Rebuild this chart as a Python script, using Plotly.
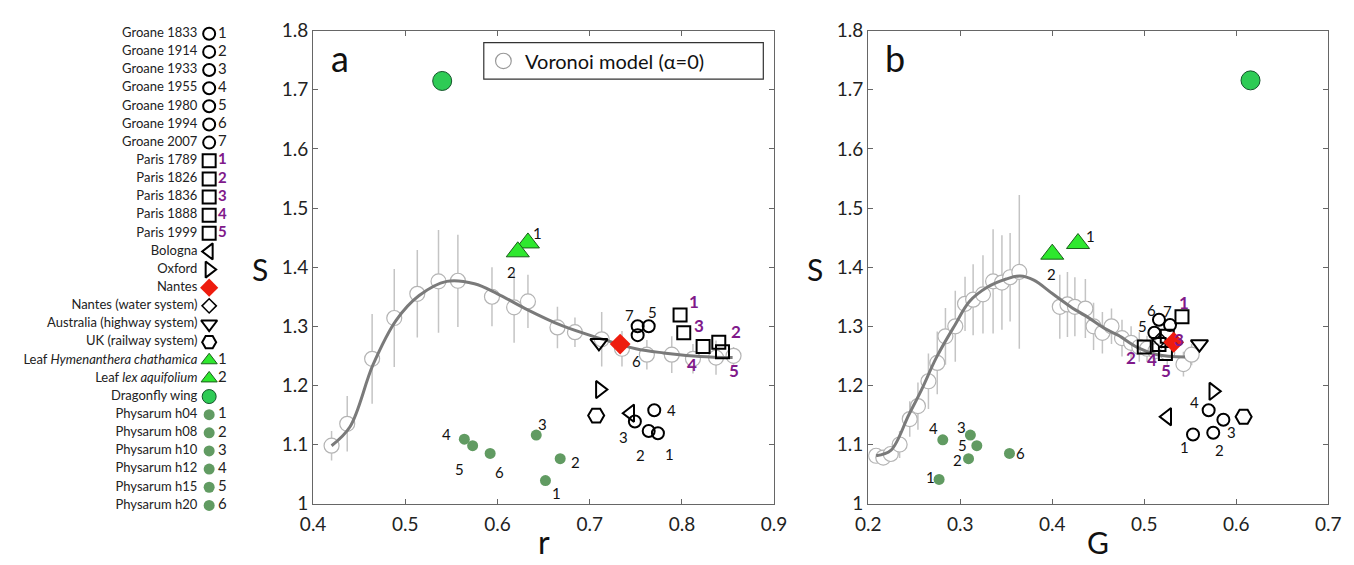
import plotly.graph_objects as go

FONT = "Lato"
W, H = 1354, 565

# ---------------- legend rows (left column) ----------------
legend_names = [
    "Groane 1833", "Groane 1914", "Groane 1933", "Groane 1955", "Groane 1980",
    "Groane 1994", "Groane 2007",
    "Paris 1789", "Paris 1826", "Paris 1836", "Paris 1888", "Paris 1999",
    "Bologna", "Oxford", "Nantes", "Nantes (water system)",
    "Australia (highway system)", "UK (railway system)",
    "Leaf <i>Hymenanthera chathamica</i>", "Leaf <i>lex aquifolium</i>",
    "Dragonfly wing",
    "Physarum h04", "Physarum h08", "Physarum h10", "Physarum h12",
    "Physarum h15", "Physarum h20",
]
legend_kinds = (["groane"] * 7 + ["paris"] * 5
                + ["bologna", "oxford", "nantes", "nantes_water", "australia", "uk",
                   "leaf", "leaf", "dragonfly"]
                + ["physarum"] * 6)
legend_tags = ["1", "2", "3", "4", "5", "6", "7",
               "1", "2", "3", "4", "5",
               "", "", "", "", "", "",
               "1", "2", "",
               "1", "2", "3", "4", "5", "6"]

# ---------------- panel a : S vs r ----------------
vor_a_r = [0.420, 0.437, 0.464, 0.488, 0.513, 0.536, 0.557, 0.594, 0.618, 0.633,
           0.665, 0.684, 0.713, 0.735, 0.762, 0.789, 0.812, 0.837, 0.856]
vor_a_S = [1.098, 1.135, 1.245, 1.314, 1.355, 1.376, 1.377, 1.350, 1.332, 1.342,
           1.298, 1.290, 1.278, 1.262, 1.252, 1.252, 1.245, 1.247, 1.250]
vor_a_err = [0.025, 0.047, 0.076, 0.083, 0.074, 0.087, 0.078, 0.050, 0.060, 0.045,
             0.035, 0.025, 0.046, 0.030, 0.025, 0.031, 0.025, 0.029, 0.015]
curve_a_r = [0.420, 0.440, 0.465, 0.490, 0.515, 0.545, 0.575, 0.600, 0.630, 0.670,
             0.710, 0.750, 0.780, 0.820, 0.855]
curve_a_S = [1.098, 1.130, 1.235, 1.310, 1.352, 1.376, 1.372, 1.355, 1.330, 1.301,
             1.280, 1.262, 1.255, 1.249, 1.247]

groane_a_r = [0.774, 0.764, 0.749, 0.770, 0.764, 0.752, 0.752]
groane_a_S = [1.119, 1.123, 1.139, 1.158, 1.300, 1.285, 1.300]
paris_a_r = [0.798, 0.840, 0.802, 0.823, 0.844]
paris_a_S = [1.319, 1.273, 1.289, 1.266, 1.257]
physarum_a_r = [0.652, 0.668, 0.642, 0.564, 0.573, 0.592]
physarum_a_S = [1.039, 1.076, 1.116, 1.109, 1.098, 1.085]
leaf_a_r = [0.633, 0.622]
leaf_a_S = [1.441, 1.426]
single_a = {  # kind: (r, S)
    "bologna": (0.744, 1.153),
    "oxford": (0.711, 1.193),
    "nantes_water": (0.733, 1.270),
    "nantes": (0.733, 1.270),
    "australia": (0.710, 1.272),
    "uk": (0.707, 1.149),
    "dragonfly": (0.540, 1.715),
}

# ---------------- panel b : S vs G ----------------
vor_b_G = [0.2085, 0.2163, 0.2245, 0.2341, 0.2451, 0.254, 0.2654, 0.275, 0.2839,
           0.2946, 0.3052, 0.314, 0.3247, 0.3357, 0.3453, 0.3542, 0.3642, 0.4082,
           0.4165, 0.4246, 0.436, 0.4449, 0.4545, 0.4644, 0.4758, 0.4857, 0.4946,
           0.503, 0.512, 0.525, 0.5426, 0.5515]
vor_b_S = [1.081, 1.078, 1.084, 1.100, 1.143, 1.165, 1.207, 1.238, 1.283, 1.300,
           1.338, 1.345, 1.354, 1.376, 1.374, 1.383, 1.392, 1.333, 1.337, 1.333,
           1.330, 1.300, 1.289, 1.300, 1.280, 1.272, 1.265, 1.262, 1.258, 1.255,
           1.236, 1.252]
vor_b_err = [0.010, 0.010, 0.012, 0.023, 0.030, 0.040, 0.047, 0.053, 0.048, 0.060,
             0.046, 0.060, 0.066, 0.088, 0.080, 0.075, 0.130, 0.054, 0.055, 0.050,
             0.050, 0.040, 0.035, 0.030, 0.031, 0.028, 0.025, 0.022, 0.020, 0.020,
             0.021, 0.018]
curve_b_G = [0.2085, 0.2245, 0.244, 0.258, 0.274, 0.2938, 0.310, 0.3293, 0.350,
             0.365, 0.380, 0.4004, 0.4218, 0.436, 0.4573, 0.4715, 0.4929, 0.5142,
             0.5443]
curve_b_S = [1.081, 1.090, 1.150, 1.193, 1.247, 1.301, 1.342, 1.366, 1.380,
             1.385, 1.378, 1.355, 1.331, 1.318, 1.296, 1.285, 1.264, 1.252,
             1.248]

groane_b_G = [0.553, 0.575, 0.586, 0.570, 0.511, 0.516, 0.528]
groane_b_S = [1.117, 1.120, 1.142, 1.158, 1.289, 1.311, 1.302]
paris_b_G = [0.541, 0.500, 0.525, 0.516, 0.523]
paris_b_S = [1.316, 1.265, 1.283, 1.269, 1.254]
physarum_b_G = [0.277, 0.309, 0.311, 0.281, 0.318, 0.3535]
physarum_b_S = [1.041, 1.076, 1.116, 1.108, 1.098, 1.085]
leaf_b_G = [0.428, 0.400]
leaf_b_S = [1.440, 1.422]
single_b = {
    "bologna": (0.525, 1.147),
    "oxford": (0.575, 1.190),
    "nantes_water": (0.517, 1.277),
    "nantes": (0.532, 1.273),
    "australia": (0.560, 1.270),
    "uk": (0.608, 1.147),
    "dragonfly": (0.6155, 1.716),
}

# ---------------- styles ----------------
PURPLE = "#80198a"
STYLE = {
    "groane": dict(symbol="circle-open", size=12, color="black", line=dict(width=2, color="black")),
    "paris": dict(symbol="square-open", size=13, color="black", line=dict(width=2, color="black")),
    "bologna": dict(symbol="triangle-left-open", size=15, color="black", line=dict(width=2, color="black")),
    "oxford": dict(symbol="triangle-right-open", size=15, color="black", line=dict(width=2, color="black")),
    "nantes": dict(symbol="diamond", size=16, color="#ee1c0e", line=dict(width=0)),
    "nantes_water": dict(symbol="diamond-open", size=11, color="black", line=dict(width=1.5, color="black")),
    "australia": dict(symbol="triangle-down-open", size=15, color="black", line=dict(width=2, color="black")),
    "uk": dict(symbol="hexagon2-open", size=16, color="black", line=dict(width=2, color="black")),
    "leaf": dict(symbol="triangle-up", size=20, color="#2ee82e", line=dict(width=1, color="#1a5e1a")),
    "dragonfly": dict(symbol="circle", size=19, color="#2ecb55", line=dict(width=1, color="#14532a")),
    "physarum": dict(symbol="circle", size=11, color="#619b62", line=dict(width=0)),
}
VOR_STYLE = dict(symbol="circle", size=15, color="white", line=dict(width=1.2, color="#b4b4b4"))

# label offsets in px (dx right, dy down)
off_groane_a = [(12, 21), (-8, 24), (-11, 16), (17, 0), (4, -14), (-1, 26), (-8, -11)]
off_paris_a = [(14, -14), (17, -11), (15, -7), (-11, 18), (12, 19)]
off_phys_a = [(11, 12), (15, 3), (6, -11), (-18, -5), (-13, 23), (9, 19)]
off_leaf_a = [(10, -10), (-6, 20)]
off_groane_b = [(-9, 13), (6, 17), (8, 12), (-14, -8), (-12, -7), (-7, -10), (-3, -14)]
off_paris_b = [(2, -14), (-13, 11), (12, 3), (-7, 15), (1, 17)]
off_phys_b = [(-9, -2), (-11, 1), (-9, -8), (-9, -12), (-14, -1), (11, 0)]
off_leaf_b = [(12, -8), (-1, 20)]

fig = go.Figure()


def add_markers(x, y, kind, xa, ya):
    fig.add_trace(go.Scatter(x=x, y=y, mode="markers", marker=STYLE[kind],
                             xaxis=xa, yaxis=ya, hoverinfo="skip", showlegend=False))


def add_tags(x, y, offsets, xa, ya, purple=False):
    for i, (xv, yv) in enumerate(zip(x, y)):
        dx, dy = offsets[i]
        txt = f"<b>{i + 1}</b>" if purple else str(i + 1)
        fig.add_annotation(x=xv, y=yv, xref=xa, yref=ya, text=txt, showarrow=False,
                           xanchor="center", yanchor="middle",
                           xshift=dx, yshift=-dy,
                           font=dict(family=FONT, size=17 if purple else 15,
                                     color=PURPLE if purple else "#111"))


def add_panel(xa, ya, vx, vy, verr, cx, cy, groane, paris, phys, leaf, single, offs):
    fig.add_trace(go.Scatter(
        x=vx, y=vy, mode="markers", marker=VOR_STYLE, xaxis=xa, yaxis=ya,
        error_y=dict(type="data", array=verr, visible=True, color="#c4c4c4",
                     thickness=1.5, width=0),
        hoverinfo="skip", showlegend=False))
    fig.add_trace(go.Scatter(x=cx, y=cy, mode="lines", line=dict(color="#7a7a7a", width=3,
                                                                 shape="spline", smoothing=1.0),
                             xaxis=xa, yaxis=ya, hoverinfo="skip", showlegend=False))
    add_markers(phys[0], phys[1], "physarum", xa, ya)
    for kind in ["nantes_water", "bologna", "oxford", "australia", "uk"]:
        add_markers([single[kind][0]], [single[kind][1]], kind, xa, ya)
    add_markers(groane[0], groane[1], "groane", xa, ya)
    add_markers(paris[0], paris[1], "paris", xa, ya)
    add_markers([single["nantes"][0]], [single["nantes"][1]], "nantes", xa, ya)
    add_markers(leaf[0], leaf[1], "leaf", xa, ya)
    add_markers([single["dragonfly"][0]], [single["dragonfly"][1]], "dragonfly", xa, ya)
    add_tags(groane[0], groane[1], offs[0], xa, ya)
    add_tags(paris[0], paris[1], offs[1], xa, ya, purple=True)
    add_tags(phys[0], phys[1], offs[2], xa, ya)
    add_tags(leaf[0], leaf[1], offs[3], xa, ya)


add_panel("x", "y", vor_a_r, vor_a_S, vor_a_err, curve_a_r, curve_a_S,
          (groane_a_r, groane_a_S), (paris_a_r, paris_a_S),
          (physarum_a_r, physarum_a_S), (leaf_a_r, leaf_a_S), single_a,
          (off_groane_a, off_paris_a, off_phys_a, off_leaf_a))
add_panel("x2", "y2", vor_b_G, vor_b_S, vor_b_err, curve_b_G, curve_b_S,
          (groane_b_G, groane_b_S), (paris_b_G, paris_b_S),
          (physarum_b_G, physarum_b_S), (leaf_b_G, leaf_b_S), single_b,
          (off_groane_b, off_paris_b, off_phys_b, off_leaf_b))

# ---------------- left legend ----------------
rows = list(range(len(legend_names)))
for i, kind in enumerate(legend_kinds):
    m = dict(STYLE[kind])
    if kind not in ("physarum", "nantes_water"):
        m["size"] = min(m["size"], 14)
    fig.add_trace(go.Scatter(x=[200], y=[i], mode="markers", marker=m, xaxis="x3", yaxis="y3",
                             hoverinfo="skip", showlegend=False))
fig.add_trace(go.Scatter(x=[188] * len(rows), y=rows, mode="text", text=legend_names,
                         textposition="middle left",
                         textfont=dict(family=FONT, size=13, color="#222"),
                         xaxis="x3", yaxis="y3", hoverinfo="skip", showlegend=False))
tag_text = [f"<b>{t}</b>" if k == "paris" else t for t, k in zip(legend_tags, legend_kinds)]
tag_col = [PURPLE if k == "paris" else "#222" for k in legend_kinds]
fig.add_trace(go.Scatter(x=[209] * len(rows), y=rows, mode="text", text=tag_text,
                         textposition="middle right",
                         textfont=dict(family=FONT, size=15, color=tag_col),
                         xaxis="x3", yaxis="y3", hoverinfo="skip", showlegend=False))

# ---------------- axes ----------------
ydom = [(H - 512.5) / H, (H - 19.5) / H]
axis_common = dict(showgrid=False, zeroline=False, showline=True, linecolor="#666", linewidth=1.2,
                   mirror="ticks", ticks="inside", ticklen=5, tickcolor="#666",
                   tickfont=dict(family=FONT, size=19, color="#222"))
fig.update_layout(
    xaxis=dict(domain=[306 / W, 776 / W], range=[0.4, 0.9], dtick=0.1, anchor="y",
               ticklabelstandoff=3, **axis_common),
    yaxis=dict(domain=ydom, range=[1, 1.8], dtick=0.1, anchor="x", **axis_common),
    xaxis2=dict(domain=[872 / W, 1341 / W], range=[0.2, 0.7], dtick=0.1, anchor="y2",
                ticklabelstandoff=3, **axis_common),
    yaxis2=dict(domain=ydom, range=[1, 1.8], dtick=0.1, anchor="x2", **axis_common),
    xaxis3=dict(domain=[0, 0.2], range=[0, 0.2 * W], visible=False, anchor="y3"),
    yaxis3=dict(domain=[0, 1], range=[28.68, -1.2], visible=False, anchor="x3"),
    width=W, height=H, margin=dict(l=0, r=0, t=0, b=0),
    paper_bgcolor="white", plot_bgcolor="white",
    font=dict(family=FONT),
)


def pap(px, py):
    return px / W, 1 - py / H


def add_text(px, py, text, size, xanchor="center"):
    x, y = pap(px, py)
    fig.add_annotation(x=x, y=y, xref="paper", yref="paper", text=text, showarrow=False,
                       xanchor=xanchor, yanchor="middle",
                       font=dict(family=FONT, size=size, color="#111"))


add_text(541, 552, "r", 32)
add_text(1106, 552, "G", 30)
add_text(252, 268, "S", 30)
add_text(818, 268, "S", 30)
add_text(333, 48, "a", 36)
add_text(899, 48, "b", 36)

# Voronoi model key box
x0, y0 = pap(480, 32)
x1, y1 = pap(765, 70)
fig.add_shape(type="rect", xref="paper", yref="paper", x0=x0, y0=y0, x1=x1, y1=y1,
              line=dict(color="#333", width=1.2), fillcolor="white")
cx0, cy0 = pap(492, 43)
cx1, cy1 = pap(508, 59)
fig.add_shape(type="circle", xref="paper", yref="paper", x0=cx0, y0=cy0, x1=cx1, y1=cy1,
              line=dict(color="#999", width=1.2), fillcolor="white")
add_text(520, 51, "Voronoi model (α=0)", 20, xanchor="left")

fig.write_html("out.html", config={"displayModeBar": False},
               post_script="document.body.style.margin='0';")
